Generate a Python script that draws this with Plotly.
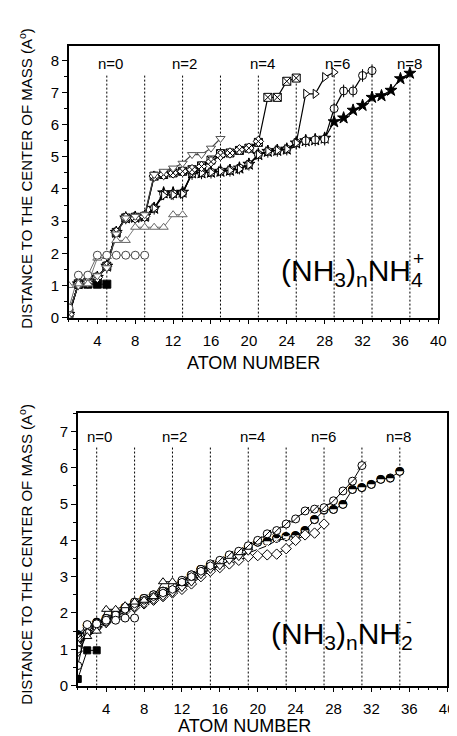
import plotly.graph_objects as go

# ---------------- data: (NH3)n NH4+  (top panel) ----------------
top_cluster_sizes = [5, 9, 13, 17, 21, 25, 29, 33, 37]
top_labels = ["n=0", "n=2", "n=4", "n=6", "n=8"]
top_label_x = [5.4, 13.2, 21.4, 29.4, 37.0]

top_n0 = [0.02, 1.04, 1.04, 1.04, 1.04]
top_n1 = [0.30, 1.32, 1.32, 1.94, 1.94, 1.94, 1.94, 1.94, 1.94]
top_n2 = [1.00, 1.05, 1.05, 1.85, 1.90, 2.40, 2.40, 2.81, 2.81, 2.81, 2.81, 3.20, 3.20]
top_n3 = [0.20, 1.00, 1.10, 1.30, 1.55, 2.60, 3.10, 3.15, 3.20, 4.45, 4.55, 4.65,
          4.80, 5.07, 5.07, 5.27, 5.57]
top_n4 = [0.10, 1.05, 1.10, 1.25, 1.60, 2.65, 3.10, 3.10, 3.15, 4.40, 4.45, 4.50,
          4.55, 4.60, 4.70, 4.85, 5.05, 5.12, 5.22, 5.27, 5.48]
top_n5 = [0.10, 1.05, 1.10, 1.25, 1.60, 2.65, 3.10, 3.12, 3.15, 4.40, 4.45, 4.50,
          4.55, 4.60, 4.72, 4.90, 5.10, 5.12, 5.20, 5.27, 5.45, 6.85, 6.85, 7.35, 7.45]
top_n6 = [0.10, 1.05, 1.10, 1.25, 1.60, 2.65, 3.10, 3.12, 3.15, 3.40, 3.80, 3.82,
          3.85, 4.50, 4.50, 4.52, 4.55, 4.58, 4.62, 4.75, 5.07, 5.17, 5.20, 5.24,
          5.43, 6.96, 6.96, 7.48, 7.63]
top_n7 = [0.10, 1.05, 1.10, 1.25, 1.60, 2.65, 3.10, 3.12, 3.15, 3.40, 3.85, 3.85,
          3.87, 4.48, 4.50, 4.52, 4.55, 4.58, 4.65, 4.77, 5.07, 5.17, 5.20, 5.24,
          5.43, 5.50, 5.53, 5.55, 6.50, 7.05, 7.05, 7.53, 7.68]
top_n8 = [0.10, 1.05, 1.10, 1.25, 1.60, 2.65, 3.10, 3.12, 3.15, 3.40, 3.88, 3.88,
          3.90, 4.50, 4.50, 4.52, 4.55, 4.58, 4.65, 4.77, 5.07, 5.17, 5.20, 5.24,
          5.43, 5.50, 5.53, 5.58, 6.09, 6.21, 6.45, 6.60, 6.85, 6.90, 7.07, 7.43, 7.60]

# ---------------- data: (NH3)n NH2-  (bottom panel) ----------------
bot_cluster_sizes = [3, 7, 11, 15, 19, 23, 27, 31, 35]
bot_labels = ["n=0", "n=2", "n=4", "n=6", "n=8"]
bot_label_x = [3.3, 11.2, 19.4, 26.9, 34.9]

bot_n0 = [0.18, 0.97, 0.97]
bot_n1 = [0.55, 1.68, 1.70, 1.80, 1.80, 1.86, 1.86]
bot_n2 = [1.15, 1.35, 1.50, 2.10, 2.10, 2.20, 2.30, 2.35, 2.45, 2.86, 2.86]
bot_n3 = [1.00, 1.45, 1.60, 1.75, 1.95, 2.10, 2.25, 2.35, 2.45, 2.55, 2.65, 2.85,
          3.00, 3.15, 3.30]
bot_n4 = [0.90, 1.40, 1.55, 1.70, 1.85, 2.05, 2.15, 2.25, 2.35, 2.45, 2.55, 2.70,
          2.85, 3.05, 3.20, 3.30, 3.45, 3.55, 3.70]
bot_n5 = [1.20, 1.50, 1.65, 1.80, 1.95, 2.10, 2.20, 2.30, 2.40, 2.50, 2.60, 2.75,
          2.90, 3.10, 3.20, 3.30, 3.45, 3.55, 3.65, 3.75, 3.85, 4.00, 4.05]
bot_n6 = [1.05, 1.45, 1.60, 1.75, 1.90, 2.05, 2.15, 2.25, 2.35, 2.45, 2.55, 2.65,
          2.80, 3.00, 3.15, 3.25, 3.35, 3.45, 3.55, 3.58, 3.60, 3.62, 3.77, 4.00,
          4.15, 4.20, 4.45]
bot_n7 = [1.30, 1.60, 1.70, 1.85, 2.00, 2.15, 2.30, 2.40, 2.50, 2.60, 2.75, 2.90,
          3.05, 3.20, 3.35, 3.45, 3.60, 3.70, 3.85, 4.00, 4.18, 4.27, 4.45, 4.59,
          4.81, 4.86, 4.90, 5.09, 5.36, 5.63, 6.06]
bot_n8 = [1.40, 1.65, 1.75, 1.85, 2.00, 2.15, 2.30, 2.40, 2.50, 2.60, 2.70, 2.85,
          3.05, 3.20, 3.30, 3.40, 3.55, 3.65, 3.80, 3.95, 3.98, 4.06, 4.10, 4.13,
          4.27, 4.57, 4.84, 4.85, 4.99, 5.40, 5.45, 5.54, 5.68, 5.72, 5.90]

FONT = "Liberation Sans, Arial, sans-serif"
W, H = 457, 736


def px(xp):
    return xp / W


def py(yp):
    return 1 - yp / H


fig = go.Figure()


def add_series(vals, xa, ya, symbol, fill="white", lcol="black", mcol="black",
               size=8, lw=1.2, mlw=1.0):
    xs = list(range(1, len(vals) + 1))
    fig.add_trace(go.Scatter(
        x=xs, y=vals, xaxis=xa, yaxis=ya, mode="lines+markers",
        line=dict(color=lcol, width=lw),
        marker=dict(symbol=symbol, size=size, color=fill,
                    line=dict(color=mcol, width=mlw)),
        showlegend=False, hoverinfo="skip"))


def add_overlay(vals, xa, ya, symbol, size=8, col="black", mlw=1.0):
    xs = list(range(1, len(vals) + 1))
    fig.add_trace(go.Scatter(
        x=xs, y=vals, xaxis=xa, yaxis=ya, mode="markers",
        marker=dict(symbol=symbol, size=size, color=col,
                    line=dict(color=col, width=mlw)),
        showlegend=False, hoverinfo="skip"))


# ---- top panel traces ----
add_series(top_n0, "x", "y", "square", fill="black", lw=0.8)
add_series(top_n8, "x", "y", "star", fill="black", size=9)
add_series(top_n7, "x", "y", "circle")
add_overlay(top_n7, "x", "y", "line-ns-open", size=9)
add_series(top_n6, "x", "y", "triangle-right")
add_series(top_n5, "x", "y", "square-x")
add_series(top_n4, "x", "y", "diamond-x")
add_series(top_n3, "x", "y", "triangle-down", lcol="#444", mcol="#555")
add_series(top_n2, "x", "y", "triangle-up", lcol="#555", mcol="#666", lw=0.8)
add_series(top_n1, "x", "y", "circle", lcol="#444", mcol="#444", lw=0.8)

# ---- bottom panel traces ----
add_series(bot_n0, "x2", "y2", "square", fill="black", lw=1.0, size=7)
add_series(bot_n8, "x2", "y2", "circle", lw=1.0, size=8)
fig.add_trace(go.Scatter(
    x=list(range(1, len(bot_n8) + 1)), y=bot_n8, xaxis="x2", yaxis="y2",
    mode="text", text=["\u25d3"] * len(bot_n8), textposition="middle center",
    textfont=dict(family="DejaVu Sans", size=11, color="black"),
    showlegend=False, hoverinfo="skip"))
add_series(bot_n7, "x2", "y2", "circle", lw=1.0, size=8)
add_overlay(bot_n7, "x2", "y2", "line-ne-open", size=8)
add_series(bot_n6, "x2", "y2", "diamond", lw=1.0, size=8)
add_series(bot_n5, "x2", "y2", "x-thin-open", lw=1.0, size=7)
add_series(bot_n4, "x2", "y2", "triangle-down", lw=1.0, size=8)
add_series(bot_n3, "x2", "y2", "hexagon", lw=1.0, size=8)
add_series(bot_n2, "x2", "y2", "triangle-up", lw=1.0, size=8)
add_series(bot_n1, "x2", "y2", "circle", lw=1.0, size=8)

# ---- vertical dotted lines ----
shapes = []
for s in top_cluster_sizes:
    shapes.append(dict(type="line", xref="x", yref="y", x0=s, x1=s, y0=0, y1=7.55,
                       line=dict(color="black", width=1, dash="2px,2px"), layer="below"))
for s in bot_cluster_sizes:
    shapes.append(dict(type="line", xref="x2", yref="y2", x0=s, x1=s, y0=0, y1=6.6,
                       line=dict(color="black", width=1, dash="2px,2px"), layer="below"))

annotations = []
for lab, xv in zip(top_labels, top_label_x):
    annotations.append(dict(x=xv, y=7.9, xref="x", yref="y", text=lab,
                            xanchor="center", yanchor="middle", showarrow=False,
                            font=dict(family=FONT, size=15, color="black")))
for lab, xv in zip(bot_labels, bot_label_x):
    annotations.append(dict(x=xv, y=6.87, xref="x2", yref="y2", text=lab,
                            xanchor="center", yanchor="middle", showarrow=False,
                            font=dict(family=FONT, size=15, color="black")))

# formulas (charge sign stacked above the last subscript, as in the original)
annotations.append(dict(x=px(424), y=py(247), xref="paper", yref="paper",
                        xanchor="right", yanchor="top",
                        text="(NH<sub>3</sub>)<sub>n</sub>NH<sub>4</sub>",
                        showarrow=False, font=dict(family=FONT, size=30, color="black")))
annotations.append(dict(x=px(418), y=py(253), xref="paper", yref="paper",
                        xanchor="center", yanchor="middle", text="+",
                        showarrow=False, font=dict(family=FONT, size=19, color="black")))
annotations.append(dict(x=px(414), y=py(614), xref="paper", yref="paper",
                        xanchor="right", yanchor="top",
                        text="(NH<sub>3</sub>)<sub>n</sub>NH<sub>2</sub>",
                        showarrow=False, font=dict(family=FONT, size=30, color="black")))
annotations.append(dict(x=px(408), y=py(620), xref="paper", yref="paper",
                        xanchor="center", yanchor="middle", text="-",
                        showarrow=False, font=dict(family=FONT, size=17, color="black")))

# axis titles
for yc in (172, 552):
    annotations.append(dict(x=px(17), y=py(yc), xref="paper", yref="paper",
                            xanchor="center", yanchor="middle",
                            text="DISTANCE TO THE CENTER OF MASS (A<sup>o</sup>)",
                            textangle=-90, showarrow=False,
                            font=dict(family=FONT, size=15, color="black")))
annotations.append(dict(x=px(250), y=py(359), xref="paper", yref="paper",
                        xanchor="center", yanchor="middle",
                        text="ATOM NUMBER", showarrow=False,
                        font=dict(family=FONT, size=18, color="black")))
annotations.append(dict(x=px(241), y=py(726), xref="paper", yref="paper",
                        xanchor="center", yanchor="middle",
                        text="ATOM NUMBER", showarrow=False,
                        font=dict(family=FONT, size=18, color="black")))

axis_common = dict(showline=True, linecolor="black", linewidth=1.5, mirror=True,
                   ticks="outside", tickcolor="black", ticklen=5, tickwidth=1,
                   showgrid=False, zeroline=False,
                   tickfont=dict(family=FONT, size=15, color="black"))

fig.update_layout(
    width=W, height=H, margin=dict(l=0, r=0, t=0, b=0),
    paper_bgcolor="white", plot_bgcolor="white", showlegend=False,
    xaxis=dict(domain=[px(62), px(438)], range=[1, 40], anchor="y",
               tickmode="array", tickvals=list(range(4, 41, 4)), ticklabelstandoff=4,
               minor=dict(tickmode="linear", tick0=0, dtick=1, ticks="outside",
                          ticklen=3, tickcolor="black"), **axis_common),
    yaxis=dict(domain=[py(313), py(38)], range=[0, 8.46], anchor="x",
               tickmode="array", tickvals=list(range(0, 9)),
               minor=dict(tickmode="linear", tick0=0, dtick=0.5, ticks="outside",
                          ticklen=3, tickcolor="black"), **axis_common),
    xaxis2=dict(domain=[px(71), px(447)], range=[1, 40], anchor="y2",
                tickmode="array", tickvals=list(range(4, 41, 4)), ticklabelstandoff=4,
                minor=dict(tickmode="linear", tick0=0, dtick=1, ticks="outside",
                           ticklen=3, tickcolor="black"), **axis_common),
    yaxis2=dict(domain=[py(685), py(409)], range=[0, 7.52], anchor="x2",
                tickmode="array", tickvals=list(range(0, 8)),
                minor=dict(tickmode="linear", tick0=0, dtick=0.5, ticks="outside",
                           ticklen=3, tickcolor="black"), **axis_common),
    shapes=shapes, annotations=annotations,
)

fig.write_html("out.html")
